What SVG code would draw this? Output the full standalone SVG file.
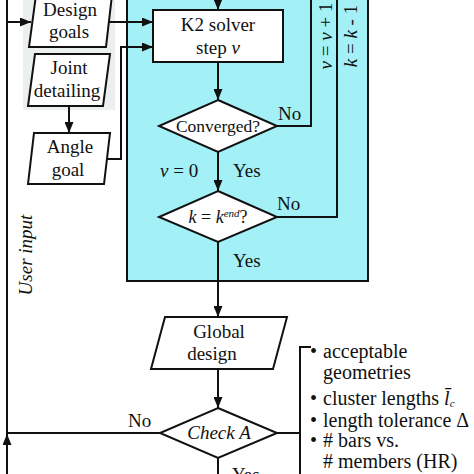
<svg xmlns="http://www.w3.org/2000/svg" width="474" height="474" viewBox="0 0 474 474">
<defs>
<marker id="arr" markerUnits="userSpaceOnUse" markerWidth="11" markerHeight="9" refX="11" refY="4.5" orient="auto">
<path d="M0,0 L11,4.5 L0,9 z" fill="#111"/>
</marker>
<style>
text{fill:#111;font-size:19px}
.c{text-anchor:middle}
.i{font-style:italic}
.shape{fill:#fff;stroke:#111;stroke-width:2}
.ln{fill:none;stroke:#111;stroke-width:2}
.ar{fill:none;stroke:#111;stroke-width:2;marker-end:url(#arr)}
</style>
</defs>
<rect width="474" height="474" fill="#fff"/>
<g font-family="'Liberation Serif', 'DejaVu Serif', 'Times New Roman', serif">
<g id="loop-region">
<rect x="127" y="-5" width="241" height="286" fill="#a3f1f6" stroke="#111" stroke-width="2"/>
</g>
<g id="input-region">
<rect x="23" y="-5" width="92" height="115" fill="#eceff0"/>
</g>
<g id="connectors">
<path class="ln" d="M160,433 H7"/>
<path class="ln" d="M7,474 V0"/>
<path class="ar" d="M7,474 V434"/>
<path class="ar" d="M7,22 H31"/>
<path class="ar" d="M109,22 H153"/>
<path class="ar" d="M69,106 V133"/>
<path class="ar" d="M107,159 H121 V47 H153"/>
<path class="ar" d="M218,-2 V10"/>
<path class="ar" d="M218,62 V100"/>
<path class="ln" d="M277,126 H311 V-2"/>
<path class="ar" d="M218,152 V191"/>
<path class="ln" d="M277,217 H337 V-2"/>
<path class="ar" d="M218,242 V317"/>
<path class="ar" d="M218,369 V408"/>
<path class="ln" d="M277,433 H300"/>
<path class="ln" d="M311,347 H300 V476"/>
<path class="ln" d="M218,458 V476"/>
</g>
<g id="design-goals">
<polygon class="shape" points="36,-5 112,-5 106,47 29,47"/>
<text class="c" x="70" y="16">Design</text>
<text class="c" x="69" y="38">goals</text>
</g>
<g id="joint-detailing">
<polygon class="shape" points="35,54 110,54 103,106 28,106"/>
<text class="c" x="69" y="74">Joint</text>
<text class="c" x="67" y="97">detailing</text>
</g>
<g id="angle-goal">
<polygon class="shape" points="34,133 110,133 104,184 28,184"/>
<text class="c" x="70" y="153">Angle</text>
<text class="c" x="68" y="176">goal</text>
</g>
<g id="k2-solver">
<rect class="shape" x="153" y="10" width="130" height="52"/>
<text class="c" x="218" y="31">K2 solver</text>
<text class="c" x="218" y="54">step <tspan class="i">v</tspan></text>
</g>
<g id="converged">
<polygon class="shape" points="218,100 277,126 218,152 159,126"/>
<text class="c" x="218" y="132" style="font-size:17.5px">Converged?</text>
</g>
<g id="k-end">
<polygon class="shape" points="218,191 277,217 218,242 159,217"/>
<text class="c" x="218" y="223" style="font-size:18px"><tspan class="i">k</tspan> = <tspan class="i">k</tspan><tspan class="i" style="font-size:11px" dy="-6">end</tspan><tspan dy="6">?</tspan></text>
</g>
<g id="global-design">
<polygon class="shape" points="165,317 287,317 273,369 151,369"/>
<text class="c" x="219" y="338">Global</text>
<text class="c" x="212" y="360">design</text>
</g>
<g id="check-a">
<polygon class="shape" points="218,408 277,433 218,458 160,433"/>
<text class="c i" x="219" y="439">Check A</text>
</g>
<g id="labels">
<text x="278" y="120">No</text>
<text x="277" y="210">No</text>
<text x="160" y="177"><tspan class="i">v</tspan> = 0</text>
<text x="233" y="177">Yes</text>
<text x="233" y="267">Yes</text>
<text x="128" y="427">No</text>
<text x="232" y="481">Yes</text>
<text class="c i" transform="translate(32,255) rotate(-90)">User input</text>
<text class="c" transform="translate(332,36) rotate(-90)"><tspan class="i">v</tspan> = <tspan class="i">v</tspan> + 1</text>
<text class="c" transform="translate(357,36) rotate(-90)"><tspan class="i">k</tspan> = <tspan class="i">k</tspan> - 1</text>
</g>
<g id="criteria">
<text x="310" y="358" style="font-size:20px">•</text>
<text x="323" y="358" style="font-size:20px">acceptable</text>
<text x="323" y="379" style="font-size:20px">geometries</text>
<text x="310" y="405" style="font-size:20px">•</text>
<text x="323" y="405" style="font-size:20px">cluster lengths <tspan class="i">l̄</tspan><tspan class="i" style="font-size:11px" dy="2">c</tspan></text>
<text x="310" y="427" style="font-size:20px">•</text>
<text x="323" y="427" style="font-size:20px">length tolerance Δ</text>
<text x="310" y="447" style="font-size:20px">•</text>
<text x="323" y="447" style="font-size:20px"># bars vs.</text>
<text x="323" y="468" style="font-size:20px"># members (HR)</text>
</g>
</g>
</svg>
